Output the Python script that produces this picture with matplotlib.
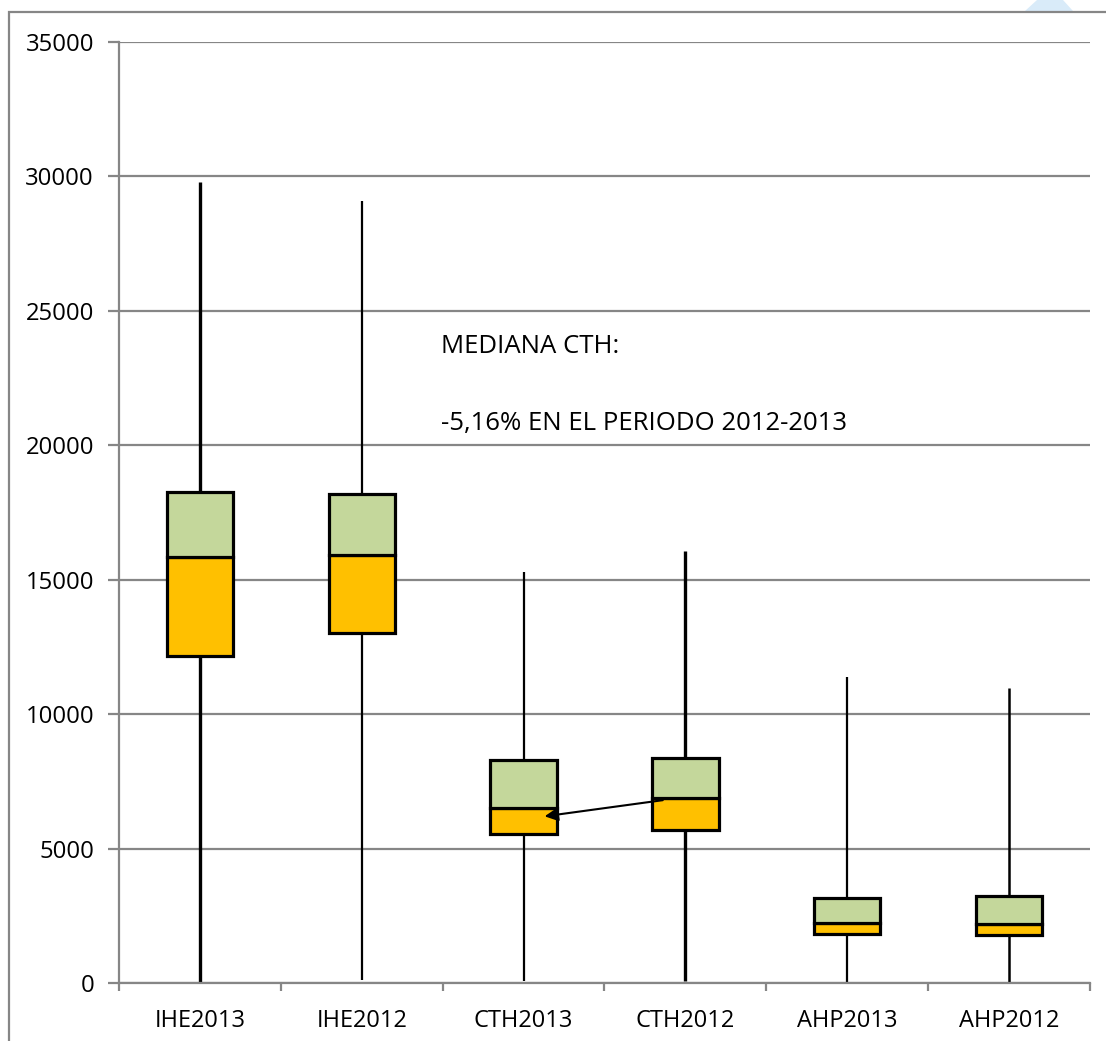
import matplotlib
matplotlib.use("Agg")
import matplotlib.pyplot as plt
from matplotlib.patches import Polygon, Rectangle

plt.rcParams['font.family'] = ['Open Sans', 'DejaVu Sans']

categories = ["IHE2013", "IHE2012", "CTH2013", "CTH2012", "AHP2013", "AHP2012"]
minimum = [0, 130, 80, 60, 20, 30]
q1 = [12160, 13020, 5560, 5700, 1810, 1790]
median = [15850, 15920, 6525, 6880, 2230, 2210]
q3 = [18270, 18200, 8280, 8380, 3180, 3225]
maximum = [29800, 29100, 15280, 16060, 11370, 10960]
whisker_widths = [2.4, 1.6, 1.6, 2.4, 1.6, 1.8]

y_ticks = [0, 5000, 10000, 15000, 20000, 25000, 30000, 35000]
note_lines = ["MEDIANA CTH:", "-5,16% EN EL PERIODO 2012-2013"]

W, H = 1106, 1041
fig = plt.figure(figsize=(W / 100, H / 100), dpi=100)
fig.patch.set_facecolor("white")

# plot area in pixel coordinates
left, right, top, bottom = 119, 1090, 42, 983
ax = fig.add_axes([left / W, 1 - bottom / H, (right - left) / W, (bottom - top) / H])

grid_c = "#868686"
x = list(range(len(categories)))

# whiskers
for i in x:
    ax.vlines(i, minimum[i], maximum[i], color="black", lw=whisker_widths[i], zorder=2)

# boxes as stacked bars
lower = [m - a for m, a in zip(median, q1)]
upper = [b - m for b, m in zip(q3, median)]
ax.bar(x, lower, bottom=q1, width=0.41, color="#FFC000", edgecolor="black",
       linewidth=2.3, zorder=3)
ax.bar(x, upper, bottom=median, width=0.41, color="#C4D79B", edgecolor="black",
       linewidth=2.3, zorder=3)

ax.set_xlim(-0.5, len(categories) - 0.5)
ax.set_ylim(0, 35000)
ax.set_yticks(y_ticks)
ax.set_yticklabels([str(v) for v in y_ticks])
ax.yaxis.grid(True, color=grid_c, lw=1.6, zorder=0)
ax.set_axisbelow(True)

ax.set_xticks([i + 0.5 for i in [-1] + x])
ax.set_xticklabels([])
ax.set_xticks(x, minor=True)
ax.set_xticklabels(categories, minor=True)
ax.tick_params(axis="x", which="minor", length=0, pad=19, labelsize=17)
ax.tick_params(axis="x", which="major", length=6, width=1.6, color=grid_c, direction="out")
ax.tick_params(axis="y", length=8, width=1.6, color=grid_c, direction="out",
               pad=10, labelsize=17.2)

for s in ["top", "right"]:
    ax.spines[s].set_visible(False)
for s in ["left", "bottom"]:
    ax.spines[s].set_color(grid_c)
    ax.spines[s].set_linewidth(1.6)

# annotation of the CTH median change
ax.annotate("", xy=(2.13, 6200), xytext=(2.86, 6800),
            arrowprops=dict(arrowstyle="-|>", color="black", lw=1.5,
                            mutation_scale=20, shrinkA=0, shrinkB=0), zorder=5)
ax.text(1.49, 23420, note_lines[0], fontsize=18.5, va="baseline", ha="left")
ax.text(1.49, 20560, note_lines[1], fontsize=18.5, va="baseline", ha="left")

# outer chart frame
fig.add_artist(Rectangle((9 / W, -0.1), 1.2, 1 - 12 / H + 0.1, transform=fig.transFigure,
                         fill=False, edgecolor=grid_c, lw=1.6))
# faint shape at the top edge
fig.add_artist(Polygon([(1025 / W, 1 - 11 / H), (1073 / W, 1 - 11 / H),
                        (1063 / W, 1.0), (1037 / W, 1.0)], closed=True,
                       transform=fig.transFigure, facecolor="#d9ebf9",
                       edgecolor="none", zorder=-1))

fig.savefig("out.png", dpi=100)
